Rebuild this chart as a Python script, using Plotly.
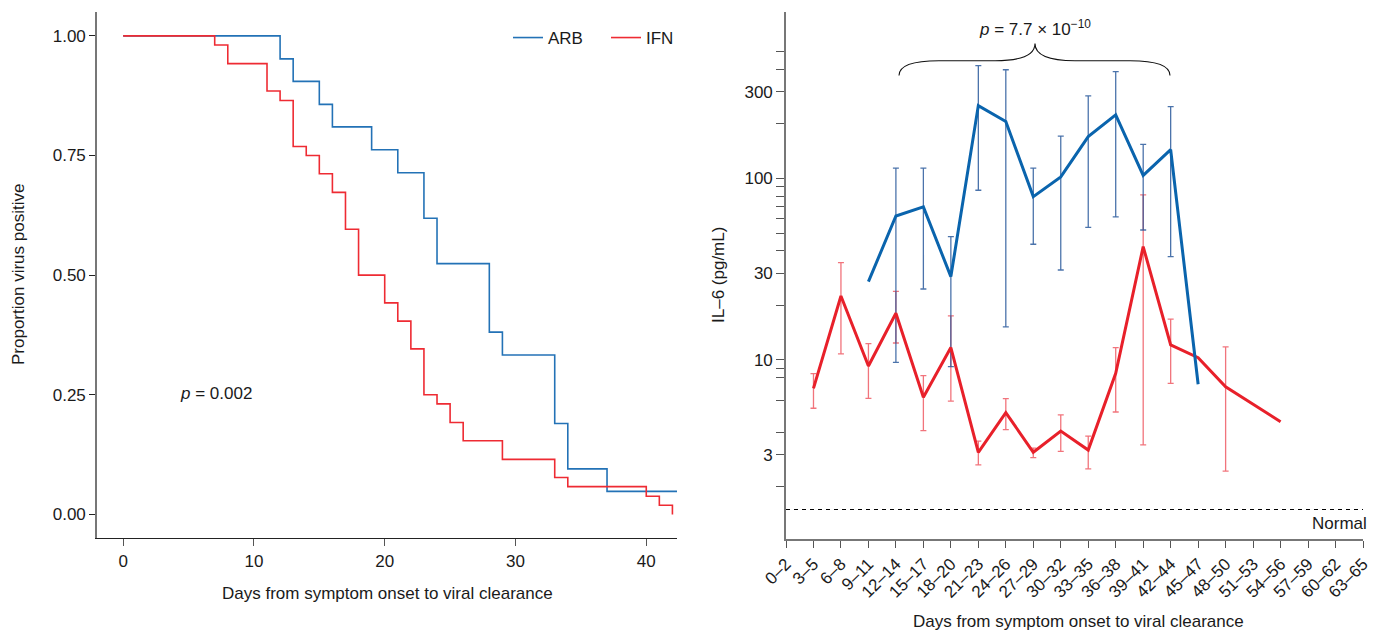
import plotly.graph_objects as go

# ---------------- Left panel: Kaplan-Meier style step curves ----------------
arb_days = [0, 12, 13, 15, 16, 19, 21, 23, 24, 28, 29, 33, 34, 37, 42.35]
arb_prop = [1.0, 0.952, 0.905, 0.857, 0.810, 0.762, 0.714, 0.619, 0.524,
            0.381, 0.333, 0.190, 0.095, 0.048, 0.048]

ifn_days = [0, 7, 8, 11, 12, 13, 14, 15, 16, 17, 18, 20, 21, 22, 23, 24,
            25, 26, 29, 33, 34, 40, 41, 42]
ifn_prop = [1.0, 0.981, 0.942, 0.885, 0.865, 0.769, 0.750, 0.712, 0.673,
            0.596, 0.500, 0.442, 0.404, 0.346, 0.250, 0.231, 0.192, 0.154,
            0.115, 0.077, 0.058, 0.038, 0.019, 0.0]

left_xticks = [0, 10, 20, 30, 40]
left_yticks = [0.0, 0.25, 0.5, 0.75, 1.0]
left_yticktext = ["0.00", "0.25", "0.50", "0.75", "1.00"]

# ---------------- Right panel: IL-6 by day bins ----------------
bins = ["0–2", "3–5", "6–8", "9–11", "12–14", "15–17", "18–20", "21–23",
        "24–26", "27–29", "30–32", "33–35", "36–38", "39–41", "42–44",
        "45–47", "48–50", "51–53", "54–56", "57–59", "60–62", "63–65"]

arb_bins = ["9–11", "12–14", "15–17", "18–20", "21–23", "24–26", "27–29",
            "30–32", "33–35", "36–38", "39–41", "42–44", "45–47"]
arb_il6 = [27.0, 62.1, 69.7, 28.8, 252, 206, 79.4, 102, 170, 224, 104, 144, 7.35]

arb_err_bins = ["12–14", "15–17", "18–20", "21–23", "24–26", "27–29",
                "30–32", "33–35", "36–38", "39–41", "42–44"]
arb_err_mid = [62.1, 69.7, 28.8, 252, 206, 79.4, 102, 170, 224, 104, 144]
arb_err_hi = [114, 114, 47.8, 418, 397, 114, 171, 285, 388, 154, 249]
arb_err_lo = [9.71, 24.6, 9.19, 86.1, 15.2, 43.4, 31.3, 53.8, 61.4, 52.0, 37.1]

ifn_bins = ["3–5", "6–8", "9–11", "12–14", "15–17", "18–20", "21–23",
            "24–26", "27–29", "30–32", "33–35", "36–38", "39–41", "42–44",
            "45–47", "48–50", "51–53", "54–56"]
ifn_il6 = [6.98, 22.5, 9.27, 18.1, 6.23, 11.7, 3.10, 5.13, 3.10, 4.06, 3.19,
           8.45, 42.1, 12.1, 10.3, 7.12, 5.71, 4.57]

ifn_err_bins = ["3–5", "6–8", "9–11", "12–14", "15–17", "18–20", "21–23",
                "24–26", "27–29", "30–32", "33–35", "36–38", "39–41",
                "42–44", "48–50"]
ifn_err_mid = [6.98, 22.5, 9.27, 18.1, 6.23, 11.7, 3.10, 5.13, 3.10, 4.06,
               3.19, 8.45, 42.1, 12.1, 7.12]
ifn_err_hi = [8.4, 34.4, 12.3, 23.9, 8.19, 17.5, 3.57, 6.12, 3.27, 4.99, 3.81,
              11.7, 81.1, 16.8, 11.8]
ifn_err_lo = [5.42, 10.8, 6.15, 12.4, 4.08, 5.94, 2.64, 4.13, 2.90, 3.14, 2.51,
              5.17, 3.41, 7.44, 2.44]

normal_level = 1.5

right_ytickvals = [2, 3, 4, 6, 8, 9, 10, 20, 30, 40, 50, 60, 70, 80, 90,
                   100, 200, 300, 400, 500]
right_ylabels = {3: "3", 10: "10", 30: "30", 100: "100", 300: "300"}

# ---------------- Styling ----------------
FONT = "Liberation Sans, Arial, Helvetica, sans-serif"
FS = 17
W, H = 1373, 630
ARB_L = "#2372b6"
IFN_L = "#ee2b33"
ARB_R = "#0a64ad"
IFN_R = "#e8202a"
ARB_ERR = "rgba(30,80,150,0.8)"
IFN_ERR = "rgba(236,70,80,0.75)"


def px(x):
    return x / W


def py(y):
    return 1 - y / H


fig = go.Figure()

# Left panel traces
fig.add_trace(go.Scatter(x=arb_days, y=arb_prop, mode="lines", line_shape="hv",
                         line=dict(color=ARB_L, width=1.6), name="ARB",
                         xaxis="x", yaxis="y", showlegend=True))
fig.add_trace(go.Scatter(x=ifn_days, y=ifn_prop, mode="lines", line_shape="hv",
                         line=dict(color=IFN_L, width=1.6), name="IFN",
                         xaxis="x", yaxis="y", showlegend=True))

# Right panel: normal line
fig.add_trace(go.Scatter(x=[bins[0], bins[-1]], y=[normal_level, normal_level],
                         mode="lines", line=dict(color="black", width=1.1, dash="4px,4px"),
                         xaxis="x2", yaxis="y2", showlegend=False, hoverinfo="skip"))

# Error bars
fig.add_trace(go.Scatter(
    x=ifn_err_bins, y=ifn_err_mid, mode="markers",
    marker=dict(size=1, color="rgba(0,0,0,0)"),
    error_y=dict(type="data", symmetric=False,
                 array=[h - m for h, m in zip(ifn_err_hi, ifn_err_mid)],
                 arrayminus=[m - l for m, l in zip(ifn_err_mid, ifn_err_lo)],
                 color=IFN_ERR, thickness=1.3, width=3),
    xaxis="x2", yaxis="y2", showlegend=False, hoverinfo="skip"))
fig.add_trace(go.Scatter(
    x=arb_err_bins, y=arb_err_mid, mode="markers",
    marker=dict(size=1, color="rgba(0,0,0,0)"),
    error_y=dict(type="data", symmetric=False,
                 array=[h - m for h, m in zip(arb_err_hi, arb_err_mid)],
                 arrayminus=[m - l for m, l in zip(arb_err_mid, arb_err_lo)],
                 color=ARB_ERR, thickness=1.3, width=3),
    xaxis="x2", yaxis="y2", showlegend=False, hoverinfo="skip"))

# Main lines
fig.add_trace(go.Scatter(x=ifn_bins, y=ifn_il6, mode="lines",
                         line=dict(color=IFN_R, width=3),
                         xaxis="x2", yaxis="y2", showlegend=False))
fig.add_trace(go.Scatter(x=arb_bins, y=arb_il6, mode="lines",
                         line=dict(color=ARB_R, width=3),
                         xaxis="x2", yaxis="y2", showlegend=False))

tickfont = dict(family=FONT, size=FS, color="#1a1a1a")

fig.update_layout(
    width=W, height=H,
    autosize=False,
    margin=dict(l=0, r=0, t=0, b=0, pad=0),
    paper_bgcolor="white", plot_bgcolor="white",
    font=dict(family=FONT, size=FS, color="#1a1a1a"),
    showlegend=True,
    legend=dict(orientation="h", x=px(508), y=py(20), xanchor="left", yanchor="top",
                font=dict(family=FONT, size=FS, color="#1a1a1a"),
                bgcolor="rgba(0,0,0,0)", itemwidth=30, entrywidth=53,
                entrywidthmode="pixels", tracegroupgap=0),
    xaxis=dict(domain=[px(97), px(677)], range=[-2, 42.35], automargin=False,
               tickvals=left_xticks, ticks="outside", ticklen=7, tickwidth=1.3,
               tickcolor="#555", showline=True, linecolor="#222", linewidth=1.3,
               showgrid=False, zeroline=False, tickfont=tickfont, anchor="y"),
    yaxis=dict(domain=[py(538.3), py(12)], range=[-0.05, 1.05], automargin=False,
               tickvals=left_yticks, ticktext=left_yticktext,
               ticks="outside", ticklen=6, tickwidth=1.3, tickcolor="#222",
               showline=True, linecolor="#777", linewidth=1.6,
               showgrid=False, zeroline=False, tickfont=tickfont, anchor="x"),
    xaxis2=dict(domain=[px(786), px(1363)], type="category", automargin=False,
                categoryorder="array", categoryarray=bins, range=[0, 21],
                tickvals=bins, ticktext=bins, tickangle=-45,
                ticks="outside", ticklen=7, tickwidth=1.3, tickcolor="#555",
                showline=True, linecolor="#777", linewidth=1.6,
                showgrid=False, zeroline=False, tickfont=tickfont, anchor="y2"),
    yaxis2=dict(domain=[py(538.7), py(12)], type="log", range=[0.0154, 2.917],
                automargin=False, tickvals=right_ytickvals,
                ticktext=[right_ylabels.get(v, "") for v in right_ytickvals],
                ticks="outside", ticklen=8, tickwidth=1.3, tickcolor="#555",
                showline=True, linecolor="#777", linewidth=1.6,
                showgrid=False, zeroline=False, tickfont=tickfont, anchor="x2"),
)

ann = [
    dict(text="Days from symptom onset to viral clearance", x=px(387), y=py(593)),
    dict(text="Proportion virus positive", x=px(18), y=py(275), textangle=-90),
    dict(text="<i>p</i> = 0.002", x=px(216), y=py(393)),
    dict(text="IL–6 (pg/mL)", x=px(718), y=py(275), textangle=-90),
    dict(text="Days from symptom onset to viral clearance", x=px(1078), y=py(621)),
    dict(text="<i>p</i> = 7.7 × 10<sup>−10</sup>", x=px(1035), y=py(28)),
]
for a in ann:
    a.update(xref="paper", yref="paper", showarrow=False, xanchor="center",
             yanchor="middle", font=dict(family=FONT, size=FS, color="#1a1a1a"))
ann.append(dict(text="Normal", x=px(1369), y=py(523), xanchor="right", yanchor="middle",
                xref="paper", yref="paper", showarrow=False,
                font=dict(family=FONT, size=FS, color="#1a1a1a")))
fig.update_layout(annotations=ann)

# Curly brace above the ARB series
xl, xm, xr = px(899), px(1035), px(1170)
yb, yh, yt = py(75.5), py(60.7), py(43.5)
dx = 40 / W
brace = (f"M {xl},{yb} Q {xl},{yh} {xl+dx},{yh} L {xm-dx},{yh} "
         f"Q {xm},{yh} {xm},{yt} Q {xm},{yh} {xm+dx},{yh} "
         f"L {xr-dx},{yh} Q {xr},{yh} {xr},{yb}")
fig.add_shape(type="path", path=brace, xref="paper", yref="paper",
              line=dict(color="#111", width=1.1))

fig.write_html("out.html",
               config={"displayModeBar": False},
               post_script="document.body.style.margin='0';"
                           "document.body.style.overflow='hidden';"
                           "document.documentElement.style.overflow='hidden';")
